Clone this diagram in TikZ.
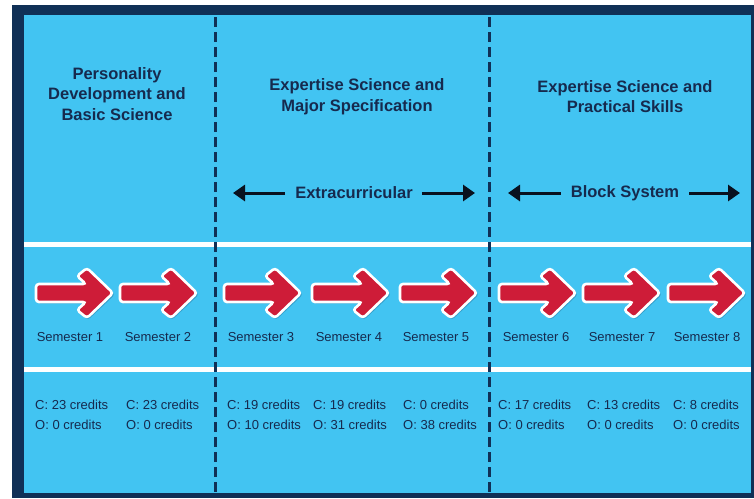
\documentclass[tikz,border=0pt]{standalone}
\usepackage{fontspec}
\setmainfont{Liberation Sans}
\usetikzlibrary{arrows.meta}
\definecolor{bgblue}{RGB}{66,196,242}
\definecolor{navy}{RGB}{16,48,86}
\definecolor{txtnavy}{RGB}{22,42,78}
\definecolor{arrred}{RGB}{206,28,56}
\begin{document}
\begin{tikzpicture}[x=1pt,y=-1pt,
  headtxt/.style={font=\fontsize{16.5}{20.5}\selectfont\bfseries, text=txtnavy, align=center},
  semtxt/.style={font=\fontsize{13}{15}\selectfont, text=txtnavy, anchor=base},
  credtxt/.style={font=\fontsize{13}{15}\selectfont, text=txtnavy, anchor=base west, inner sep=0pt},
  divider/.style={navy, line width=3pt, dash pattern=on 10pt off 5pt},
  sepline/.style={white, line width=4.5pt},
  harrow/.style={line width=3pt, -{Triangle[length=12pt,width=16pt]}, txtnavy!40!black},
  semarrow/.pic={
    \fill[navy, opacity=0.25, rounded corners=3pt]
      (1,-7.5) -- (51,-7.5) -- (42,-16) -- (52,-24) -- (79,1.5) -- (52,27) -- (42,19) -- (51,10.5) -- (1,10.5) -- cycle;
    \draw[white, line width=2.6pt, fill=arrred, rounded corners=3pt]
      (0,-9) -- (50,-9) -- (41,-17) -- (51,-25) -- (77,0) -- (51,25) -- (41,17) -- (50,9) -- (0,9) -- cycle;
  }
]
\useasboundingbox (0,0) rectangle (754,498);
\fill[white] (0,0) rectangle (754,498);
\fill[navy] (12,5) rectangle (754,498);
\fill[bgblue] (24,15) rectangle (751,493);

% horizontal separators
\draw[sepline] (24,244.5) -- (751,244.5);
\draw[sepline] (24,369.5) -- (751,369.5);

% dashed dividers
\draw[divider] (215,17) -- (215,493);
\draw[divider] (489,17) -- (489,493);

% headers
\node[headtxt] (h1) at (117,94) {Personality\\Development and\\Basic Science};
\node[headtxt] (h2) at (357,96.5) {Expertise Science and\\Major Specification};
\node[headtxt] (h3) at (625,96.5) {Expertise Science and\\Practical Skills};

% extracurricular / block system
\node[headtxt, inner sep=0pt] (ext) at (354,193) {Extracurricular};
\coordinate (extL) at (233,193);
\coordinate (extR) at (475,193);
\draw[harrow] ([xshift=-10pt]ext.west) -- (extL);
\draw[harrow] ([xshift=9pt]ext.east) -- (extR);
\node[headtxt, inner sep=0pt] (blk) at (625,193) {Block System};
\coordinate (blkL) at (508,193);
\coordinate (blkR) at (740,193);
\draw[harrow] ([xshift=-10pt]blk.west) -- (blkL);
\draw[harrow] ([xshift=10pt]blk.east) -- (blkR);

% semester arrows
\pic (a1) at (36,293) {semarrow};
\pic (a2) at (120,293) {semarrow};
\pic (a3) at (224,293) {semarrow};
\pic (a4) at (312,293) {semarrow};
\pic (a5) at (400,293) {semarrow};
\pic (a6) at (499,293) {semarrow};
\pic (a7) at (583,293) {semarrow};
\pic (a8) at (668,293) {semarrow};

% semester labels
\node[semtxt] (s1) at (70,341.5) {Semester 1};
\node[semtxt] (s2) at (158,341.5) {Semester 2};
\node[semtxt] (s3) at (261,341.5) {Semester 3};
\node[semtxt] (s4) at (349,341.5) {Semester 4};
\node[semtxt] (s5) at (436,341.5) {Semester 5};
\node[semtxt] (s6) at (536,341.5) {Semester 6};
\node[semtxt] (s7) at (622,341.5) {Semester 7};
\node[semtxt] (s8) at (707,341.5) {Semester 8};

% credits
\node[credtxt] (c1) at (35,409.5) {C: 23 credits};
\node[credtxt] (o1) at (35,429.5) {O: 0 credits};
\node[credtxt] (c2) at (126,409.5) {C: 23 credits};
\node[credtxt] (o2) at (126,429.5) {O: 0 credits};
\node[credtxt] (c3) at (227,409.5) {C: 19 credits};
\node[credtxt] (o3) at (227,429.5) {O: 10 credits};
\node[credtxt] (c4) at (313,409.5) {C: 19 credits};
\node[credtxt] (o4) at (313,429.5) {O: 31 credits};
\node[credtxt] (c5) at (403,409.5) {C: 0 credits};
\node[credtxt] (o5) at (403,429.5) {O: 38 credits};
\node[credtxt] (c6) at (498,409.5) {C: 17 credits};
\node[credtxt] (o6) at (498,429.5) {O: 0 credits};
\node[credtxt] (c7) at (587,409.5) {C: 13 credits};
\node[credtxt] (o7) at (587,429.5) {O: 0 credits};
\node[credtxt] (c8) at (673,409.5) {C: 8 credits};
\node[credtxt] (o8) at (673,429.5) {O: 0 credits};
\end{tikzpicture}
\end{document}
